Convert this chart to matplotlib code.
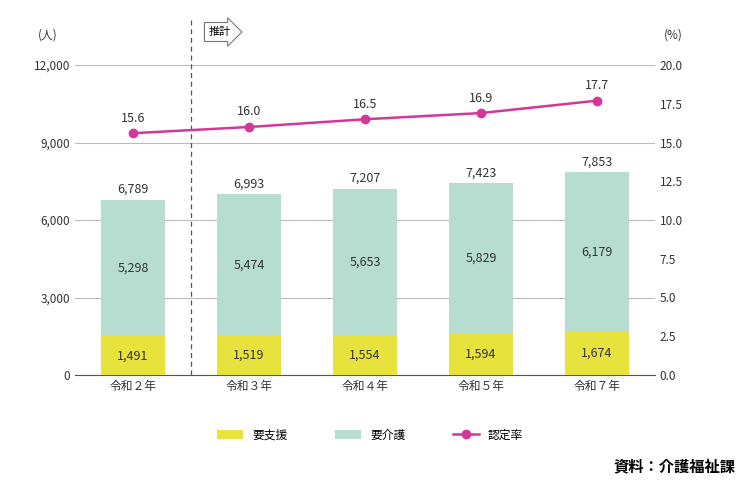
import numpy as np
import matplotlib.pyplot as plt

plt.rcParams['font.family'] = ['Noto Sans CJK JP', 'DejaVu Sans']

years = ['令和２年', '令和３年', '令和４年', '令和５年', '令和７年']
shien = [1491, 1519, 1554, 1594, 1674]
kaigo = [5298, 5474, 5653, 5829, 6179]
total = [6789, 6993, 7207, 7423, 7853]
rate = [15.6, 16.0, 16.5, 16.9, 17.7]

c_yellow = '#e8e23c'
c_green = '#b6ddd0'
c_line = '#d4379a'

fig = plt.figure(figsize=(7.51, 4.87), dpi=100)
ax = fig.add_axes([75 / 751, 1 - 375 / 487, 580 / 751, 310 / 487])
x = np.arange(len(years))
ax.bar(x, shien, width=0.56, color=c_yellow, zorder=3, label='要支援')
ax.bar(x, kaigo, width=0.56, bottom=shien, color=c_green, zorder=3, label='要介護')
for i in x:
    ax.text(i, shien[i] / 2, f'{shien[i]:,}', ha='center', va='center', fontsize=9, color='#333333', zorder=4)
    ax.text(i, shien[i] + kaigo[i] / 2, f'{kaigo[i]:,}', ha='center', va='center', fontsize=9, color='#333333', zorder=4)
    ax.text(i, total[i] + 150, f'{total[i]:,}', ha='center', va='bottom', fontsize=9, color='#333333')
ax.set_xlim(-0.5, 4.5)
ax.set_ylim(0, 12000)
ax.set_yticks(range(0, 12001, 3000))
ax.set_yticklabels([f'{v:,}' for v in range(0, 12001, 3000)], fontsize=8.5)
ax.set_xticks(x)
ax.set_xticklabels(years, fontsize=8.5)
ax.grid(axis='y', color='#bbbbbb', lw=0.8, zorder=0)
ax.tick_params(length=0, colors='#333333')
for s in ['top', 'left', 'right']:
    ax.spines[s].set_visible(False)
ax.spines['bottom'].set_color('#555555')

ax2 = ax.twinx()
ax2.plot(x, rate, color=c_line, marker='o', ms=6, lw=1.8, label='認定率', zorder=5)
for i in x:
    ax2.text(i, rate[i] + 0.55, f'{rate[i]:.1f}', ha='center', va='bottom', fontsize=9, color='#333333')
ax2.set_ylim(0, 20)
ax2.set_yticks(np.arange(0, 20.1, 2.5))
ax2.set_yticklabels([f'{v:.1f}' for v in np.arange(0, 20.1, 2.5)], fontsize=8.5)
ax2.tick_params(length=0, colors='#333333')
for s in ax2.spines.values():
    s.set_visible(False)

# forecast divider
ax.plot([0.5, 0.5], [0, 13800], ls=(0, (4, 3)), color='#555555', lw=0.9, clip_on=False)
fig.text(220 / 751, 1 - 32 / 487, '推計', fontsize=8, ha='center', va='center',
         bbox=dict(boxstyle='rarrow,pad=0.4', fc='white', ec='#777777', lw=0.8))

fig.text(48 / 751, 1 - 35 / 487, '(人)', fontsize=8.5, ha='center', va='center', color='#333333')
fig.text(673 / 751, 1 - 35 / 487, '(%)', fontsize=8.5, ha='center', va='center', color='#333333')

h1, l1 = ax.get_legend_handles_labels()
h2, l2 = ax2.get_legend_handles_labels()
fig.legend(h1 + h2, l1 + l2, loc='center', bbox_to_anchor=(370 / 751, 1 - 435 / 487), ncol=3,
           frameon=False, fontsize=8.5, handlelength=2.2, columnspacing=4)
fig.text(735 / 751, 1 - 466 / 487, '資料：介護福祉課', fontsize=11, ha='right', va='center', weight='bold')

fig.savefig('out.png', dpi=100)
